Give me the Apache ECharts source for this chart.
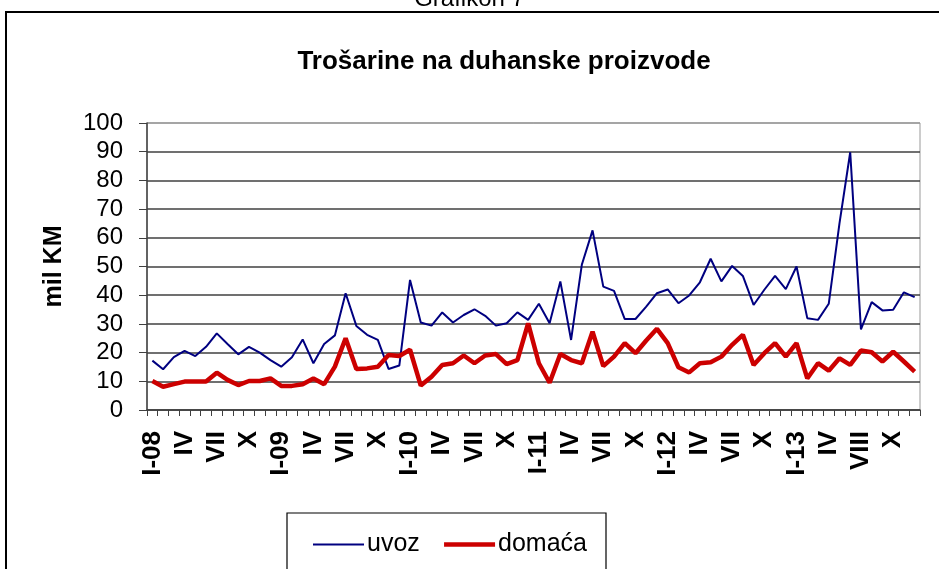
<!DOCTYPE html>
<html>
<head>
<meta charset="utf-8">
<script src="https://cdn.jsdelivr.net/npm/echarts@6/dist/echarts.min.js"></script>
<style>
  html, body { margin: 0; padding: 0; background: #fff; }
  #chart { width: 939px; height: 569px; }
</style>
</head>
<body>
<div id="chart"></div>
<script>
// mjesečne oznake, I-08 .. XII-13
const categories = [
  'I-08', '', '', 'IV', '', '', 'VII', '', '', 'X', '', '',
  'I-09', '', '', 'IV', '', '', 'VII', '', '', 'X', '', '',
  'I-10', '', '', 'IV', '', '', 'VII', '', '', 'X', '', '',
  'I-11', '', '', 'IV', '', '', 'VII', '', '', 'X', '', '',
  'I-12', '', '', 'IV', '', '', 'VII', '', '', 'X', '', '',
  'I-13', '', '', 'IV', '', '', 'VIII', '', '', 'X', '', ''
]

// uvoz, mil KM
const uvoz = [
  17.2, 14.2, 18.4, 20.6, 18.8, 22, 26.7, 23, 19.4, 22, 20, 17.4,
  15.1, 18.4, 24.6, 16.3, 23, 26, 40.7, 29.3, 26.2, 24.4, 14.3, 15.5,
  45.3, 30.5, 29.4, 34, 30.5, 33.1, 35.1, 32.8, 29.4, 30.2, 34, 31.4,
  37, 30.2, 44.8, 24.4, 50.6, 62.6, 43, 41.5, 31.7, 31.7, 36, 40.7,
  42, 37.2, 39.9, 44.5, 52.7, 44.8, 50.2, 46.7, 36.6, 41.9, 46.7, 42.1,
  50, 32, 31.4, 37, 65, 89.8, 28.1, 37.6, 34.7, 34.9, 41, 39.3
]

// domaća proizvodnja, mil KM
const domaca = [
  10.1, 8.1, 9, 9.9, 9.9, 9.9, 13, 10.5, 8.7, 10.1, 10.1, 11,
  8.4, 8.4, 9, 11, 9, 15.1, 25, 14.3, 14.5, 15.1, 19.2, 18.8,
  21, 8.5, 11.6, 15.7, 16.3, 19, 16.3, 19, 19.5, 16, 17.4, 30.2,
  16.3, 9.5, 19.5, 17.4, 16.3, 27.3, 15.3, 18.6, 23.3, 19.8, 24.2, 28.3,
  23.3, 14.9, 13.1, 16.3, 16.6, 18.6, 22.7, 26.2, 15.7, 19.8, 23.3, 18.6,
  23.3, 11, 16.3, 13.7, 18, 15.7, 20.7, 20.1, 16.9, 20.3, 16.9, 13.4
]

const yTicks = [0, 10, 20, 30, 40, 50, 60, 70, 80, 90, 100]

const sans = '"Liberation Sans", Arial, sans-serif'

const myChart = echarts.init(document.getElementById('chart'))

const option = {
  backgroundColor: '#fff',
  animation: false,
  title: {
    text: 'Trošarine na duhanske proizvode',
    left: 499,
    top: 44,
    textAlign: 'center',
    textStyle: { fontFamily: sans, fontSize: 26, fontWeight: 'bold', color: '#000' }
  },
  graphic: [
    {
      type: 'text',
      left: 'center',
      top: -13,
      style: { text: 'Grafikon 7', font: '24px ' + sans, fill: '#000' }
    },
    {
      // okvir grafikona
      type: 'rect',
      shape: { x: 6, y: 12, width: 1000, height: 700 },
      style: { fill: 'none', stroke: '#000', lineWidth: 2 },
      silent: true
    },
    {
      // okvir legende
      type: 'rect',
      shape: { x: 287, y: 513, width: 319, height: 100 },
      style: { fill: 'none', stroke: '#000', lineWidth: 1.2 },
      silent: true
    }
  ],
  legend: {
    left: 312,
    top: 532,
    padding: 0,
    itemWidth: 51,
    itemHeight: 20,
    itemGap: 22,
    itemStyle: { opacity: 0 },
    textStyle: { fontFamily: sans, fontSize: 25, color: '#000', padding: [0, 0, 0, -2] },
    data: [
      { name: 'uvoz', lineStyle: { width: 2 } },
      { name: 'domaća', lineStyle: { width: 4.5 } }
    ]
  },
  grid: {
    left: 147,
    right: 19,
    top: 123,
    bottom: 159,
    show: true,
    borderColor: '#999',
    borderWidth: 1
  },
  xAxis: {
    type: 'category',
    data: categories,
    boundaryGap: true,
    axisLine: { lineStyle: { color: '#404040', width: 1.5 } },
    axisTick: { show: true, interval: 0, length: 6, lineStyle: { color: '#404040', width: 1 } },
    axisLabel: {
      interval: 0,
      rotate: 90,
      margin: 21,
      fontFamily: sans,
      fontSize: 26,
      fontWeight: 'bold',
      color: '#000'
    },
    splitLine: { show: false }
  },
  yAxis: {
    type: 'value',
    min: yTicks[0],
    max: yTicks[yTicks.length - 1],
    interval: 10,
    name: 'mil KM',
    nameLocation: 'middle',
    nameRotate: 90,
    nameGap: 80,
    nameTextStyle: { fontFamily: sans, fontSize: 25, fontWeight: 'bold', color: '#000' },
    axisLine: { show: true, lineStyle: { color: '#404040', width: 1.5 } },
    axisTick: { show: true, inside: false, length: 8, lineStyle: { color: '#404040', width: 1 } },
    axisLabel: { margin: 24, fontFamily: sans, fontSize: 24, color: '#000' },
    splitLine: {
      show: true,
      lineStyle: {
        color: ['#404040', '#404040', '#404040', '#404040', '#404040', '#404040',
          '#404040', '#404040', '#404040', '#404040', '#999'],
        width: 1.5
      }
    }
  },
  series: [
    {
      name: 'uvoz',
      type: 'line',
      data: uvoz,
      symbol: 'none',
      color: '#000080',
      lineStyle: { color: '#000080', width: 2 }
    },
    {
      name: 'domaća',
      type: 'line',
      data: domaca,
      symbol: 'none',
      color: '#cc0000',
      lineStyle: { color: '#cc0000', width: 4.5 }
    }
  ]
}

myChart.setOption(option)
</script>
</body>
</html>
